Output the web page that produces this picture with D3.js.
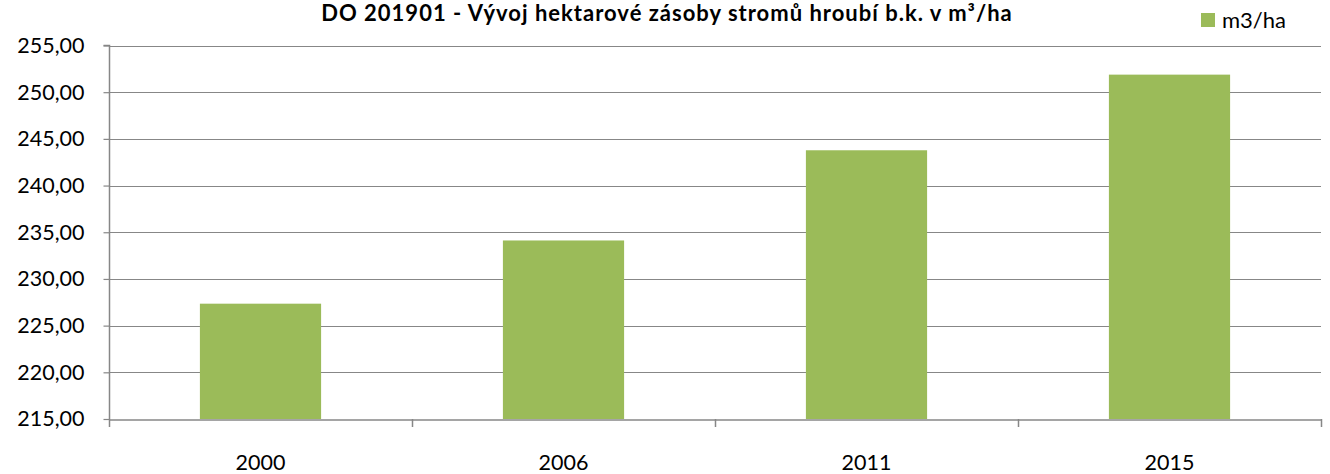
<!DOCTYPE html>
<html><head><meta charset="utf-8">
<script src="https://cdn.jsdelivr.net/npm/d3@7"></script>
<style>body{margin:0;background:#fff;} svg{display:block;}</style>
</head><body>
<svg id="c" width="1330" height="474"></svg>
<script>
const categories = ["2000", "2006", "2011", "2015"];
const values = [227.35, 234.12, 243.78, 251.88];
const yTicks = [215, 220, 225, 230, 235, 240, 245, 250, 255];
const seriesName = "m3/ha";
const title = "DO 201901 - Vývoj hektarové zásoby stromů hroubí b.k. v m³/ha";

const svg = d3.select("#c");
const m = {left:109, right:1321, top:45.5, bottom:419};
const x = d3.scaleBand().domain(categories).range([m.left, m.right]).paddingInner(0.6).paddingOuter(0.3);
const xb = d3.scaleBand().domain(categories).range([m.left, m.right]);
const y = d3.scaleLinear().domain([215, 255]).range([m.bottom, m.top]);
const font = "Lato, 'Open Sans', sans-serif";
const grid = "#878787";

// gridlines
svg.append("g").selectAll("line").data(yTicks.slice(1)).join("line")
  .attr("x1", m.left).attr("x2", m.right)
  .attr("y1", d => Math.round(y(d))+0.5).attr("y2", d => Math.round(y(d))+0.5)
  .attr("stroke", grid).attr("stroke-width", 1.2);

// bars
svg.append("g").selectAll("rect").data(values).join("rect")
  .attr("x", (d,i) => x(categories[i])).attr("width", x.bandwidth())
  .attr("y", d => y(d)).attr("height", d => y(215) - y(d))
  .attr("fill", "#9BBB59");

// y axis
const ya = svg.append("g").attr("transform", `translate(${m.left+0.5},0)`)
  .call(d3.axisLeft(y).tickValues(yTicks).tickSize(6).tickPadding(19)
    .tickFormat(d => d3.format(".2f")(d).replace(".", ",")));
ya.select(".domain").attr("stroke", grid).attr("stroke-width", 1.5).attr("d", `M-6,${m.top}H0V${m.bottom}`);
ya.selectAll(".tick line").attr("stroke", grid).attr("stroke-width", 1.2);
ya.selectAll("text").attr("font-family", font).attr("font-size", 21.5).attr("fill", "#000");

// x axis
const xa = svg.append("g").attr("transform", `translate(0,${m.bottom+0.5})`)
  .call(d3.axisBottom(xb).tickSize(0).tickPadding(35));
xa.select(".domain").attr("stroke", grid).attr("stroke-width", 1.5);
xa.selectAll("text").attr("font-family", font).attr("font-size", 21.5).attr("fill", "#000");
// category boundary ticks
const bounds = categories.map(c => xb(c)).concat([m.right]);
svg.append("g").selectAll("line").data(bounds).join("line")
  .attr("x1", d => Math.round(d)+0.5).attr("x2", d => Math.round(d)+0.5)
  .attr("y1", m.bottom).attr("y2", m.bottom + 8)
  .attr("stroke", grid).attr("stroke-width", 1.5);

// title
svg.append("text").attr("x", 667).attr("y", 21).attr("text-anchor", "middle")
  .attr("font-family", font).attr("font-weight", "bold").attr("font-size", 22)
  .attr("letter-spacing", 1)
  .text(title);

// legend
svg.append("rect").attr("x", 1201).attr("y", 13).attr("width", 14).attr("height", 14).attr("fill", "#9BBB59");
svg.append("text").attr("x", 1222).attr("y", 27.5).attr("font-family", font).attr("font-size", 22).text(seriesName);
</script>
</body></html>
